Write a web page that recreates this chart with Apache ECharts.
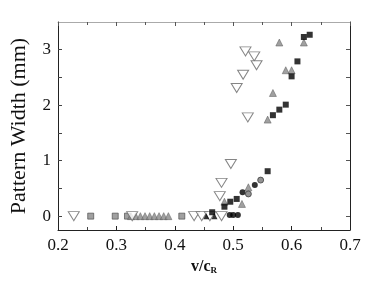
<!DOCTYPE html>
<html>
<head>
<meta charset="utf-8">
<script src="https://cdn.jsdelivr.net/npm/echarts@6/dist/echarts.min.js"></script>
<style>html,body{margin:0;padding:0;background:#fff}#c{width:374px;height:287px}</style>
</head>
<body>
<div id="c"></div>
<script>
// Data
const xTickLabels = ['0.2','0.3','0.4','0.5','0.6','0.7'];
const yTickLabels = ['0','1','2','3'];

const openDownTriangles = [
  [0.227,0],[0.327,0],[0.433,0],[0.446,0],[0.460,0],[0.480,0],
  [0.477,0.36],[0.480,0.60],[0.496,0.94],[0.506,2.31],[0.517,2.55],
  [0.521,2.97],[0.536,2.88],[0.540,2.72],[0.525,1.78]
];
const blackSquares = [
  [0.464,0.07],[0.485,0.17],[0.495,0.26],[0.506,0.31],[0.559,0.81],
  [0.568,1.82],[0.579,1.92],[0.590,2.01],[0.600,2.52],[0.610,2.79],
  [0.621,3.23],[0.631,3.27]
];
const blackCircles = [
  [0.494,0.02],[0.500,0.02],[0.508,0.02],[0.516,0.43],[0.537,0.56]
];
const grayCircles = [
  [0.526,0.40],[0.547,0.65]
];
const grayTriangles = [
  [0.485,0.26],[0.515,0.22],[0.526,0.52],[0.559,1.74],[0.568,2.22],
  [0.579,3.13],[0.590,2.63],[0.600,2.63],[0.621,3.13],
  [0.325,0],[0.333,0],[0.341,0],[0.349,0],[0.357,0],[0.365,0],
  [0.373,0],[0.381,0],[0.389,0]
];
const blackTriangles = [
  [0.454,0],[0.468,0]
];
const grayComposite = [
  [0.256,0],[0.298,0],[0.319,0],[0.412,0]
];

const serif = '"Liberation Serif","DejaVu Serif",serif';
const chart = echarts.init(document.getElementById('c'));
chart.setOption({
  animation:false,
  backgroundColor:'#fff',
  grid:{left:55,right:24,top:22,bottom:57},
  xAxis:[{
    type:'value',min:0.2,max:0.7,interval:0.1,
    name:'{a|v/c}{b|R}',nameLocation:'middle',nameGap:28,
    nameTextStyle:{rich:{
      a:{fontFamily:serif,fontWeight:'bold',fontSize:16,color:'#111'},
      b:{fontFamily:serif,fontWeight:'bold',fontSize:9,color:'#111',verticalAlign:'bottom',padding:[7,0,0,0]}
    }},
    axisLine:{show:true,onZero:false,lineStyle:{color:'#222',width:1}},
    axisTick:{show:true,inside:true,length:4,lineStyle:{color:'#222'}},
    minorTick:{show:true,splitNumber:2,length:3,lineStyle:{color:'#444'}},
    splitLine:{show:false},
    axisLabel:{fontFamily:serif,fontSize:17,color:'#111',margin:7,
      formatter:v=>xTickLabels[Math.round((v-0.2)*10)] ?? ''}
  },{
    type:'value',position:'top',min:0.2,max:0.7,interval:0.1,
    axisLine:{show:true,onZero:false,lineStyle:{color:'#aaa',width:1}},
    axisTick:{show:true,inside:true,length:4,lineStyle:{color:'#555'}},
    minorTick:{show:true,splitNumber:2,length:3,lineStyle:{color:'#555'}},
    axisLabel:{show:false},splitLine:{show:false}
  }],
  yAxis:[{
    type:'value',min:-0.25,max:3.5,
    name:'Pattern Width (mm)',nameLocation:'middle',nameGap:28,
    nameTextStyle:{fontFamily:serif,fontSize:22,color:'#111'},
    axisLine:{show:true,onZero:false,lineStyle:{color:'#222',width:1}},
    axisTick:{show:true,inside:true,length:4,lineStyle:{color:'#444'},customValues:[0,0.5,1,1.5,2,2.5,3]},
    axisLabel:{fontFamily:serif,fontSize:17,color:'#111',margin:7,customValues:[0,1,2,3],
      formatter:v=>yTickLabels[Math.round(v)] ?? ''},
    splitLine:{show:false}
  },{
    type:'value',position:'right',min:-0.25,max:3.5,
    axisLine:{show:true,onZero:false,lineStyle:{color:'#222',width:1}},
    axisTick:{show:true,inside:true,length:4,lineStyle:{color:'#555'},customValues:[0,0.5,1,1.5,2,2.5,3]},
    axisLabel:{show:false},splitLine:{show:false}
  }],
  series:[
    {type:'scatter',data:grayComposite,symbol:'rect',symbolSize:6,
      itemStyle:{color:'#888',borderColor:'#444',borderWidth:0.8}},
    {type:'scatter',data:grayTriangles,symbol:'triangle',symbolSize:7,
      itemStyle:{color:'#888',borderColor:'#555',borderWidth:0.6}},
    {type:'scatter',data:openDownTriangles,symbol:'triangle',symbolRotate:180,symbolSize:[11,9],
      itemStyle:{color:'#fff',borderColor:'#666',borderWidth:1}},
    {type:'scatter',data:blackSquares,symbol:'rect',symbolSize:6,itemStyle:{color:'#000'}},
    {type:'scatter',data:blackCircles,symbol:'circle',symbolSize:6,itemStyle:{color:'#000'}},
    {type:'scatter',data:grayCircles,symbol:'circle',symbolSize:6,itemStyle:{color:'#777',borderColor:'#222',borderWidth:0.8}},
    {type:'scatter',data:blackTriangles,symbol:'triangle',symbolSize:6,itemStyle:{color:'#000'}}
  ]
});
</script>
</body>
</html>
